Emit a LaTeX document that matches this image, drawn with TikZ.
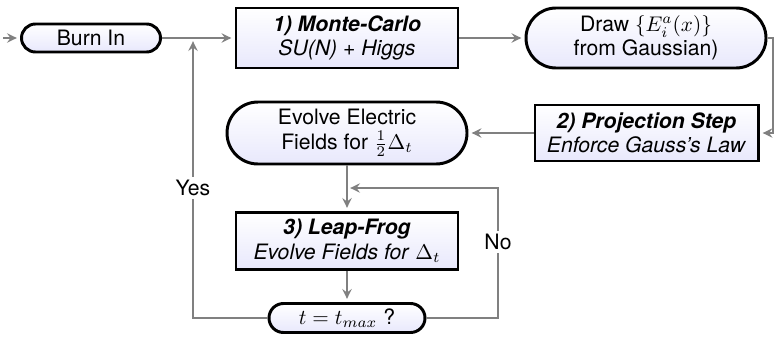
\documentclass[tikz,border=0pt]{standalone}
\usepackage{fontspec}
\setmainfont{TeX Gyre Heros}
\usetikzlibrary{shapes.misc,arrows.meta}
\definecolor{lav}{RGB}{232,232,252}
\definecolor{linkgray}{RGB}{128,128,128}
\newcommand\pxu{0.472pt}
\tikzset{
  box/.style={draw=black, line width=1.4pt, rectangle, top color=white,
    bottom color=lav, align=center, inner sep=0pt},
  pill/.style={draw=black, line width=1.4pt, rounded rectangle, top color=white,
    bottom color=lav, align=center, inner sep=0pt},
  link/.style={draw=linkgray, line width=0.9pt,
    -{Stealth[length=4.6pt,width=4.4pt,inset=1.6pt]}, shorten >=1.5pt},
  lbl/.style={fill=white, inner sep=1.5pt, font=\fontsize{10}{11.5}\selectfont},
  every node/.append style={font=\fontsize{10}{11.5}\selectfont}
}
\begin{document}
\begin{tikzpicture}[x=0.472pt, y=-0.472pt]
  \fill[white] (0,0) rectangle (775,336);
  \useasboundingbox (0,0) rectangle (775,336);

  % main stages
  \node[pill, minimum width=139*\pxu, minimum height=28*\pxu] (burn) at (91,38) {Burn In};
  \node[box, minimum width=222*\pxu, minimum height=60*\pxu] (mc) at (347,38)
    {\textbf{\textit{1) Monte-Carlo}}\\ \textit{SU(N) + Higgs}};
  \node[pill, minimum width=240*\pxu, minimum height=60*\pxu] (drawE) at (646,38)
    {Draw $\{E_i^a(x)\}$\\ from Gaussian)};
  \node[box, minimum width=223*\pxu, minimum height=56*\pxu] (proj) at (646.5,133)
    {\textbf{\textit{2) Projection Step}}\\ \textit{Enforce Gauss’s Law}};
  \node[pill, minimum width=240*\pxu, minimum height=62*\pxu] (evolve) at (347,133)
    {Evolve Electric\\ Fields for $\frac{1}{2}\Delta_t$};
  \node[box, minimum width=222*\pxu, minimum height=57*\pxu] (leap) at (347,241)
    {\textbf{\textit{3) Leap-Frog}}\\ \textit{Evolve Fields for} $\Delta_t$};
  \node[pill, minimum width=156*\pxu, minimum height=29*\pxu] (tq) at (347,318)
    {$t = t_{max}$ ?};

  % routing points
  \coordinate (in) at (3,38);
  \coordinate (join) at (193,38);
  \coordinate (yturn) at (193,188);
  \coordinate (rturn) at (773,85);
  \coordinate (nturn) at (498,242);
  \coordinate (nend) at (347,188);

  % connectors
  \draw[link] (in) -- (burn.west);
  \draw[link] (burn.east) -- (mc.west);
  \draw[link] (mc.east) -- (drawE.west);
  \draw[link] (drawE.east) -| (rturn) |- (proj.east);
  \draw[link] (proj.west) -- (evolve.east);
  \draw[link] (evolve.south) -- (leap.north);
  \draw[link] (leap.south) -- (tq.north);
  \draw[link] (tq.east) -| (nturn) |- (nend);
  \draw[link] (tq.west) -| (yturn) -- (join);

  % branch labels
  \node[lbl] (yes) at (yturn) {Yes};
  \node[lbl] (no) at (nturn) {No};
\end{tikzpicture}
\end{document}
